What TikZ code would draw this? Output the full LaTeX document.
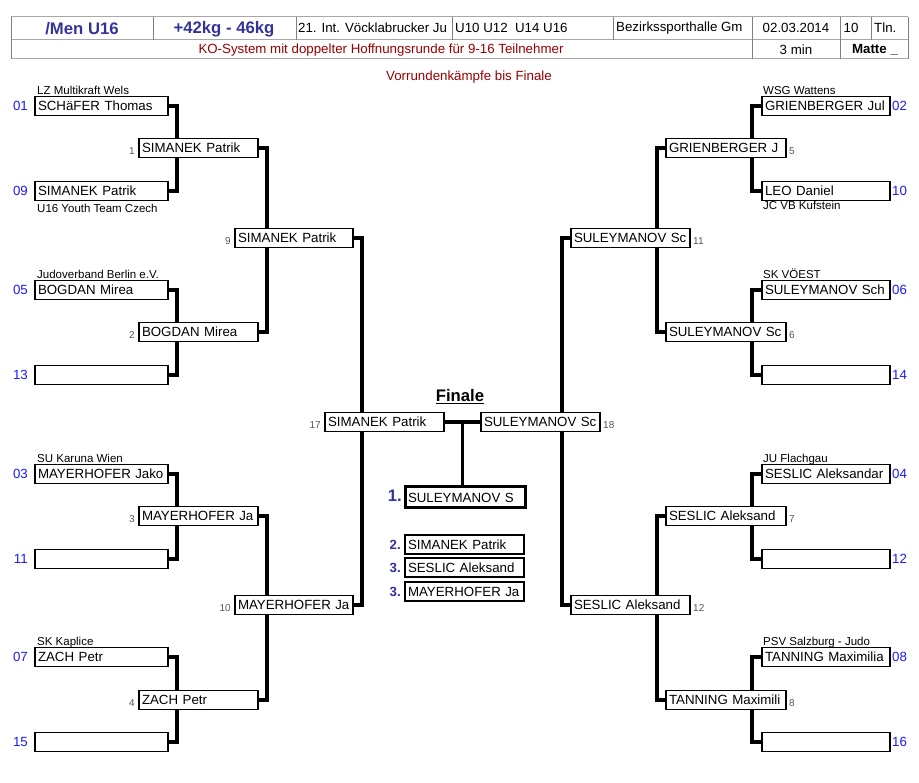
\documentclass[tikz,border=0pt]{standalone}
\usepackage{fontspec}
\setmainfont{Liberation Sans}
\usetikzlibrary{calc}
\pgfdeclarelayer{bg}
\pgfsetlayers{bg,main}
\definecolor{hblue}{HTML}{333399}
\definecolor{sblue}{HTML}{1A1AFF}
\definecolor{dred}{HTML}{990000}
\definecolor{hgray}{HTML}{A8A8A8}
\definecolor{vgray}{HTML}{808080}
\definecolor{ngray}{HTML}{555555}
\tikzset{
  fN/.style={font=\fontsize{13.3}{15}\selectfont},
  namebox/.style={draw, line width=1.8pt, fill=white, minimum height=19pt,
    inner xsep=3pt, inner ysep=0pt, outer sep=0pt, anchor=west, align=left,
    fN, text height=10.8pt, text depth=1.6pt},
  wA/.style={text width=127pt},
  wB/.style={text width=122pt},
  wC/.style={text width=114pt},
  wD/.style={text width=112pt},
  conn/.style={line width=3.4pt, line join=miter},
  seedL/.style={anchor=east, xshift=-7pt, text=sblue, fN, inner sep=0pt},
  seedR/.style={anchor=west, xshift=2pt, text=sblue, fN, inner sep=0pt},
  gnL/.style={anchor=east, xshift=-4pt, yshift=-3pt, text=ngray, font=\fontsize{10}{12}\selectfont, inner sep=0pt},
  gnR/.style={anchor=west, xshift=3pt, yshift=-3pt, text=ngray, font=\fontsize{10}{12}\selectfont, inner sep=0pt},
  clubA/.style={anchor=base west, font=\fontsize{11.5}{13}\selectfont, inner sep=0pt},
  clubB/.style={anchor=north west, font=\fontsize{11.5}{13}\selectfont, inner sep=0pt},
  hdr/.style={fN, inner sep=0pt},
  hline/.style={draw=hgray, line width=1pt},
  vline/.style={draw=vgray, line width=1pt},
  place/.style={anchor=east, xshift=-4pt, text=hblue, font=\bfseries\fontsize{13.3}{15}\selectfont, inner sep=0pt}
}
\begin{document}
\begin{tikzpicture}[x=1pt,y=-1pt]
\useasboundingbox (0,0) rectangle (919,783);
% ---------- header ----------
\draw[hline] (11,17) -- (908,17);
\draw[hline] (11,40) -- (908,40);
\draw[hline] (11,59) -- (908,59);
\draw[vline] (11,17) -- (11,59);
\draw[vline] (908,17) -- (908,59);
\foreach \x in {153,296,452,613,871} \draw[vline] (\x,17) -- (\x,40);
\foreach \x in {752,840} \draw[vline] (\x,17) -- (\x,59);
\node[hdr, text=hblue, font=\bfseries\fontsize{16.7}{19}\selectfont] (h1) at (82,29) {/Men U16};
\node[hdr, text=hblue, font=\bfseries\fontsize{16.7}{19}\selectfont] (h2) at (224,29) {+42kg - 46kg};
\node[hdr, anchor=west] (h3) at (298,28) {21. Int. Vöcklabrucker Ju};
\node[hdr, anchor=west] (h4) at (455,28) {U10 U12\ \ U14 U16};
\node[hdr, anchor=west] (h5) at (616,28) {Bezirkssporthalle Gm};
\node[hdr] (h6) at (796,28) {02.03.2014};
\node[hdr] (h7) at (851,28) {10};
\node[hdr, anchor=west] (h8) at (874,28) {Tln.};
\node[hdr, text=dred] (h9) at (381,50) {KO-System mit doppelter Hoffnungsrunde für 9-16 Teilnehmer};
\node[hdr] (h10) at (796,50) {3 min};
\node[hdr, font=\bfseries\fontsize{13.3}{15}\selectfont] (h11) at (875,50) {Matte \_};
\node[hdr, text=dred] (vr) at (469,77) {Vorrundenkämpfe bis Finale};
% ---------- left first round ----------
\node[namebox, wA] (L01) at (35,106) {SCHäFER Thomas};
\node[namebox, wA] (L09) at (35,191) {SIMANEK Patrik};
\node[namebox, wA] (L05) at (35,290) {BOGDAN Mirea};
\node[namebox, wA] (L13) at (35,375) {};
\node[namebox, wA] (L03) at (35,474) {MAYERHOFER Jako};
\node[namebox, wA] (L11) at (35,559) {};
\node[namebox, wA] (L07) at (35,657) {ZACH Petr};
\node[namebox, wA] (L15) at (35,742) {};
% ---------- right first round ----------
\node[namebox, wB] (R02) at (762,106) {GRIENBERGER Jul};
\node[namebox, wB] (R10) at (762,191) {LEO Daniel};
\node[namebox, wB] (R06) at (762,290) {SULEYMANOV Sch};
\node[namebox, wB] (R14) at (762,375) {};
\node[namebox, wB] (R04) at (762,474) {SESLIC Aleksandar};
\node[namebox, wB] (R12) at (762,559) {};
\node[namebox, wB] (R08) at (762,657) {TANNING Maximilia};
\node[namebox, wB] (R16) at (762,742) {};
% ---------- second round ----------
\node[namebox, wC, text width=113pt] (m1) at (139,148) {SIMANEK Patrik};
\node[namebox, wC, text width=113pt] (m2) at (139,332) {BOGDAN Mirea};
\node[namebox, wC, text width=113pt] (m3) at (139,516) {MAYERHOFER Ja};
\node[namebox, wC, text width=113pt] (m4) at (139,700) {ZACH Petr};
\node[namebox, wC] (m5) at (666,148) {GRIENBERGER J};
\node[namebox, wC] (m6) at (666,332) {SULEYMANOV Sc};
\node[namebox, wC] (m7) at (666,516) {SESLIC Aleksand};
\node[namebox, wC] (m8) at (666,700) {TANNING Maximili};
% ---------- third round ----------
\node[namebox, wD] (m9) at (235,238) {SIMANEK Patrik};
\node[namebox, wD] (m10) at (235,605) {MAYERHOFER Ja};
\node[namebox, wC, text width=113pt] (m11) at (571,238) {SULEYMANOV Sc};
\node[namebox, wC, text width=113pt] (m12) at (571,605) {SESLIC Aleksand};
% ---------- final ----------
\node[namebox, wC, text width=113pt] (m17) at (325,422) {SIMANEK Patrik};
\node[namebox, wC, text width=113pt] (m18) at (481,422) {SULEYMANOV Sc};
\node[hdr, font=\bfseries\fontsize{16.7}{19}\selectfont] (fin) at (460,397) {\underline{Finale}};
\node[namebox, wC, line width=3pt, minimum height=21pt] (p1) at (405,497.5) {SULEYMANOV S};
\node[namebox, wC, text width=113pt] (p2) at (405,544.5) {SIMANEK Patrik};
\node[namebox, wC, text width=113pt] (p3a) at (405,567.5) {SESLIC Aleksand};
\node[namebox, wC, text width=113pt] (p3b) at (405,591.5) {MAYERHOFER Ja};
\node[place, font=\bfseries\fontsize{16.7}{19}\selectfont, xshift=1pt, yshift=2pt] (n1) at (p1.west) {1.};
\node[place] (n2) at (p2.west) {2.};
\node[place] (n3a) at (p3a.west) {3.};
\node[place] (n3b) at (p3b.west) {3.};
% ---------- connectors ----------
\begin{pgfonlayer}{bg}
\draw[conn] (L01.east) -- ++(9,0) |- (L09.east);
\draw[conn] (L05.east) -- ++(9,0) |- (L13.east);
\draw[conn] (L03.east) -- ++(9,0) |- (L11.east);
\draw[conn] (L07.east) -- ++(9,0) |- (L15.east);
\draw[conn] (R02.west) -- ++(-10,0) |- (R10.west);
\draw[conn] (R06.west) -- ++(-10,0) |- (R14.west);
\draw[conn] (R04.west) -- ++(-10,0) |- (R12.west);
\draw[conn] (R08.west) -- ++(-10,0) |- (R16.west);
\draw[conn] (m1.east) -- ++(9,0) |- (m2.east);
\draw[conn] (m3.east) -- ++(9,0) |- (m4.east);
\draw[conn] (m5.west) -- ++(-9,0) |- (m6.west);
\draw[conn] (m7.west) -- ++(-9,0) |- (m8.west);
\draw[conn] (m9.east) -- ++(9,0) |- (m10.east);
\draw[conn] (m11.west) -- ++(-9,0) |- (m12.west);
\draw[conn] (m17.east) -- (m18.west);
\coordinate (fm) at ($(m17.east)!0.5!(m18.west)$);
\draw[conn] (fm) -- (fm |- p1.north);
\end{pgfonlayer}
% ---------- seed numbers ----------
\node[seedL] (s01) at (L01.west) {01};
\node[seedL] (s09) at (L09.west) {09};
\node[seedL] (s05) at (L05.west) {05};
\node[seedL] (s13) at (L13.west) {13};
\node[seedL] (s03) at (L03.west) {03};
\node[seedL] (s11) at (L11.west) {11};
\node[seedL] (s07) at (L07.west) {07};
\node[seedL] (s15) at (L15.west) {15};
\node[seedR] (s02) at (R02.east) {02};
\node[seedR] (s10) at (R10.east) {10};
\node[seedR] (s06) at (R06.east) {06};
\node[seedR] (s14) at (R14.east) {14};
\node[seedR] (s04) at (R04.east) {04};
\node[seedR] (s12) at (R12.east) {12};
\node[seedR] (s08) at (R08.east) {08};
\node[seedR] (s16) at (R16.east) {16};
% ---------- bout numbers ----------
\node[gnL] (g1) at (m1.west) {1};
\node[gnL] (g2) at (m2.west) {2};
\node[gnL] (g3) at (m3.west) {3};
\node[gnL] (g4) at (m4.west) {4};
\node[gnL] (g9) at (m9.west) {9};
\node[gnL] (g10) at (m10.west) {10};
\node[gnL] (g17) at (m17.west) {17};
\node[gnR] (g5) at (m5.east) {5};
\node[gnR] (g6) at (m6.east) {6};
\node[gnR] (g7) at (m7.east) {7};
\node[gnR] (g8) at (m8.east) {8};
\node[gnR] (g11) at (m11.east) {11};
\node[gnR] (g12) at (m12.east) {12};
\node[gnR] (g18) at (m18.east) {18};
% ---------- clubs ----------
\node[clubA] (c01) at ([shift={(2,-2)}]L01.north west) {LZ Multikraft Wels};
\node[clubB] (c09) at ([shift={(2,3)}]L09.south west) {U16 Youth Team Czech};
\node[clubA] (c05) at ([shift={(2,-2)}]L05.north west) {Judoverband Berlin e.V.};
\node[clubA] (c03) at ([shift={(2,-2)}]L03.north west) {SU Karuna Wien};
\node[clubA] (c07) at ([shift={(2,-2)}]L07.north west) {SK Kaplice};
\node[clubA] (c02) at ([shift={(1,-2)}]R02.north west) {WSG Wattens};
\node[clubB] (c10) at ([shift={(1,0)}]R10.south west) {JC VB Kufstein};
\node[clubA] (c06) at ([shift={(1,-2)}]R06.north west) {SK VÖEST};
\node[clubA] (c04) at ([shift={(1,-2)}]R04.north west) {JU Flachgau};
\node[clubA] (c08) at ([shift={(1,-2)}]R08.north west) {PSV Salzburg - Judo};
\end{tikzpicture}
\end{document}
